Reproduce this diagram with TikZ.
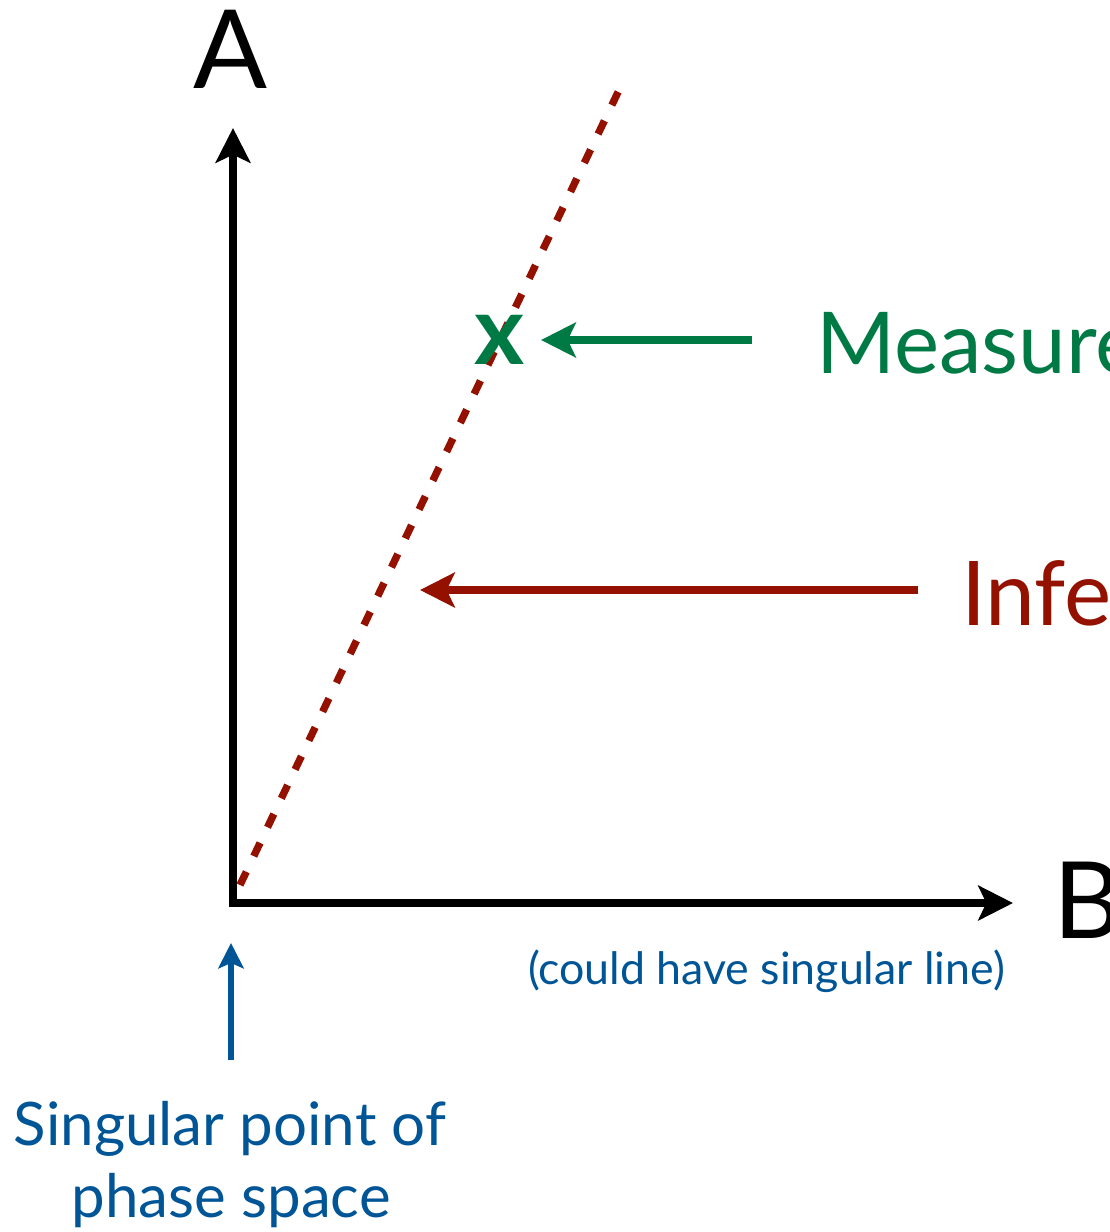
\documentclass[tikz,border=0pt]{standalone}
\usepackage{fontspec}
\setmainfont{Lato}
\usetikzlibrary{arrows.meta}
\definecolor{mgreen}{RGB}{0,122,69}
\definecolor{mred}{RGB}{148,17,0}
\definecolor{mblue}{RGB}{0,85,150}
\tikzset{
  axisline/.style={line width=5.8pt, line join=miter, {Stealth[length=26pt,width=26pt,inset=6pt]}-{Stealth[length=26pt,width=26pt,inset=6pt]}},
  bigarrow/.style={line width=6.4pt, -{Stealth[length=26pt,width=26pt,inset=6pt]}},
  smallarrow/.style={line width=3.8pt, -{Stealth[length=19pt,width=19pt,inset=4pt]}},
  inferline/.style={mred, line width=5.5pt, dash pattern=on 11pt off 13pt},
  lbl/.style={inner sep=0pt, outer sep=0pt},
}
\begin{document}
\begin{tikzpicture}[x=0.75pt,y=-0.75pt]
\clip (0,0) rectangle (1110,1232);
\fill[white] (0,0) rectangle (1110,1232);
% axes
\coordinate (O) at (233,903);
\coordinate (Atip) at (233,128);
\coordinate (Btip) at (1013,903);
\draw[axisline] (Atip) -- (O) -- (Btip);
\node[lbl, anchor=base west, font=\fontsize{82pt}{82pt}\selectfont] (labA) at (193,88) {A};
\node[lbl, anchor=base west, font=\fontsize{80pt}{80pt}\selectfont] (labB) at (1053,938) {B};
% inferred line
\coordinate (L0) at (240,885);
\coordinate (L1) at (620,88);
\draw[inferline] (L0) -- (L1);
% measured point
\node[lbl, text=mgreen, font=\fontsize{72pt}{72pt}\selectfont\bfseries] (X) at (500,340) {x};
\node[lbl, anchor=base west, text=mgreen, font=\fontsize{64pt}{64pt}\selectfont] (meas) at (816,373) {Measured};
\coordinate (gs) at (752,340);
\draw[bigarrow, mgreen] (gs) -- ([xshift=12pt]X.east);
% inferred label
\node[lbl, anchor=base west, text=mred, font=\fontsize{67pt}{67pt}\selectfont] (inf) at (961,625) {Inferred};
\coordinate (rs) at (918,590);
\coordinate (rt) at (420,590);
\draw[bigarrow, mred] (rs) -- (rt);
% singular line note
\node[lbl, anchor=base west, text=mblue, font=\fontsize{33.5pt}{33.5pt}\selectfont] (note) at (528,984) {(could have singular line)};
% singular point
\coordinate (bs) at (231,1060);
\coordinate (bt) at (231,943);
\draw[smallarrow, mblue] (bs) -- (bt);
\node[lbl, anchor=base, text=mblue, font=\fontsize{45pt}{45pt}\selectfont] (sp1) at (230,1145) {Singular point of};
\node[lbl, anchor=base, text=mblue, font=\fontsize{45pt}{45pt}\selectfont] (sp2) at (231,1217) {phase space};
\end{tikzpicture}
\end{document}
